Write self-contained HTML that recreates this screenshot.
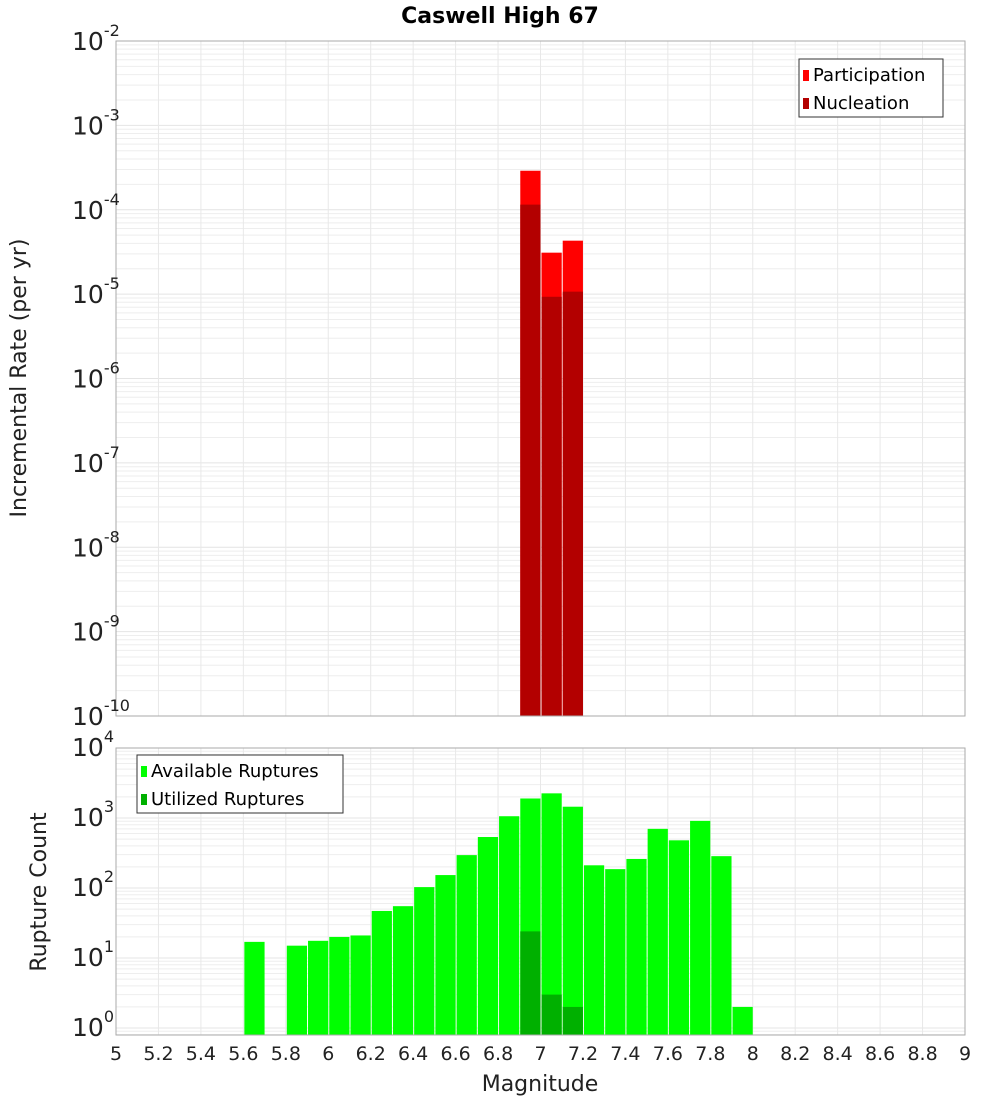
<!DOCTYPE html>
<html><head><meta charset="utf-8"><style>
html,body{margin:0;padding:0;background:#fff;}
svg text{font-family:"DejaVu Sans","Liberation Sans",sans-serif;}
</style></head><body>
<svg id="chart" width="1000" height="1100" xmlns="http://www.w3.org/2000/svg"></svg>
<script>
const binCenters = [5.65,5.85,5.95,6.05,6.15,6.25,6.35,6.45,6.55,6.65,6.75,6.85,6.95,7.05,7.15,7.25,7.35,7.45,7.55,7.65,7.75,7.85,7.95];
const availableCounts = [17,15,17.6,20,21,47,55,103,153,295,535,1060,1900,2250,1450,211,186,260,700,480,910,285,2];
const utilizedBins = [6.95,7.05,7.15];
const utilizedCounts = [24,3,2];
const rateBins = [6.95,7.05,7.15];
const participationRates = [2.9e-4,3.1e-5,4.3e-5];
const nucleationRates = [1.15e-4,9.3e-6,1.07e-5];
const xTicks = [5,5.2,5.4,5.6,5.8,6,6.2,6.4,6.6,6.8,7,7.2,7.4,7.6,7.8,8,8.2,8.4,8.6,8.8,9];
const xTickLabels = ["5","5.2","5.4","5.6","5.8","6","6.2","6.4","6.6","6.8","7","7.2","7.4","7.6","7.8","8","8.2","8.4","8.6","8.8","9"];
const topExps = [-2,-3,-4,-5,-6,-7,-8,-9,-10];
const botExps = [4,3,2,1,0];

const svg=document.getElementById('chart');
const NS='http://www.w3.org/2000/svg';
function mk(tag,attrs,parent){const e=document.createElementNS(NS,tag);for(const k in attrs)e.setAttribute(k,attrs[k]);(parent||svg).appendChild(e);return e;}
const X0=116,X1=965;
const xs=m=>X0+(m-5)/4*(X1-X0);
const T0=41,T1=716;
const yTop=v=>T0+(-2-Math.log10(v))/8*(T1-T0);
const B0=748,B1=1035;
const yBot=v=>B0+(4-Math.log10(v))*70;

function panel(name,y0,y1,lo,hi,yfun){
  const g=mk('g',{});
  
  
  mk('rect',{x:X0,y:y0,width:X1-X0,height:y1-y0,fill:'#fff'},g);
  for(let e=lo;e<hi;e++){for(let k=1;k<10;k++){const y=yfun(k*Math.pow(10,e));if(y<y0||y>y1)continue;
    mk('line',{x1:X0,x2:X1,y1:y,y2:y,stroke:k==1?'#e4e4e4':'#eeeeee','stroke-width':1},g);}}
  xTicks.forEach(t=>{mk('line',{x1:xs(t),x2:xs(t),y1:y0,y2:y1,stroke:'#e8e8e8','stroke-width':1},g);});
  return g;
}
const gt=panel('rate-plot',T0,T1,-10,-1,yTop);
const gb=panel('count-plot',B0,B1,-1,4,yBot);

function bars(g,bins,vals,fill,yfun,base,name){
  bins.forEach((b,i)=>{const xa=xs(b-0.05)+1,xb=xs(b+0.05);const y=yfun(vals[i]);
    const r=mk('rect',{x:xa,y:y,width:xb-xa,height:base-y,fill:fill},g);
    
    });
}
bars(gt,rateBins,participationRates,'#ff0000',yTop,T1,'participation-bar');
bars(gt,rateBins,nucleationRates,'#b30000',yTop,T1,'nucleation-bar');
bars(gb,binCenters,availableCounts,'#00ff00',yBot,B1,'available-bar');
bars(gb,utilizedBins,utilizedCounts,'#00b000',yBot,B1,'utilized-bar');

mk('rect',{x:X0,y:T0,width:X1-X0,height:T1-T0,fill:'none',stroke:'#aaaaaa'});
mk('rect',{x:X0,y:B0,width:X1-X0,height:B1-B0,fill:'none',stroke:'#aaaaaa'});

function ylab(e,y,name){
  const t=mk('text',{x:108,y:y+9,'text-anchor':'end','font-size':25,fill:'#222'});
  
  
  const a=document.createElementNS(NS,'tspan');a.textContent='10';t.appendChild(a);
  const s=document.createElementNS(NS,'tspan');s.setAttribute('dy','-14');s.setAttribute('font-size','16');s.textContent=String(e);t.appendChild(s);
  t.setAttribute('text-anchor','start');t.setAttribute('x',72);
}
topExps.forEach(e=>ylab(e,yTop(Math.pow(10,e)),'y-tick-top-'+e));
botExps.forEach(e=>ylab(e,yBot(Math.pow(10,e))-1,'y-tick-bottom-'+e));

xTicks.forEach((t,i)=>{const l=mk('text',{x:xs(t),y:1060,'text-anchor':'middle','font-size':19,fill:'#222'});
  l.textContent=xTickLabels[i];
  
  });

const title=mk('text',{x:500,y:23,'text-anchor':'middle','font-size':22,'font-weight':'bold',fill:'#000'});
title.textContent='Caswell High 67';


const xt=mk('text',{x:540,y:1091,'text-anchor':'middle','font-size':22,fill:'#222'});
xt.textContent='Magnitude';


const yt1=mk('text',{x:0,y:0,'text-anchor':'middle','font-size':22,fill:'#222',transform:'translate(26,378) rotate(-90)'});
yt1.textContent='Incremental Rate (per yr)';


const yt2=mk('text',{x:0,y:0,'text-anchor':'middle','font-size':22,fill:'#222',transform:'translate(46,892) rotate(-90)'});
yt2.textContent='Rupture Count';



function legend(x,y,w,items,name){
  const g=mk('g',{});
  
  
  mk('rect',{x:x,y:y,width:w,height:58,fill:'#fff',stroke:'#333','stroke-width':1},g);
  items.forEach((it,i)=>{
    mk('rect',{x:x+4,y:y+11+i*28,width:6,height:11,fill:it[1]},g);
    const t=mk('text',{x:x+14,y:y+22+i*28,'font-size':18,fill:'#000'},g);t.textContent=it[0];
    
    
  });
}
legend(799,59,144,[['Participation','#ff0000'],['Nucleation','#b30000']],'legend-rate');
legend(137,755,206,[['Available Ruptures','#00ff00'],['Utilized Ruptures','#00b000']],'legend-count');
</script>
</body></html>
